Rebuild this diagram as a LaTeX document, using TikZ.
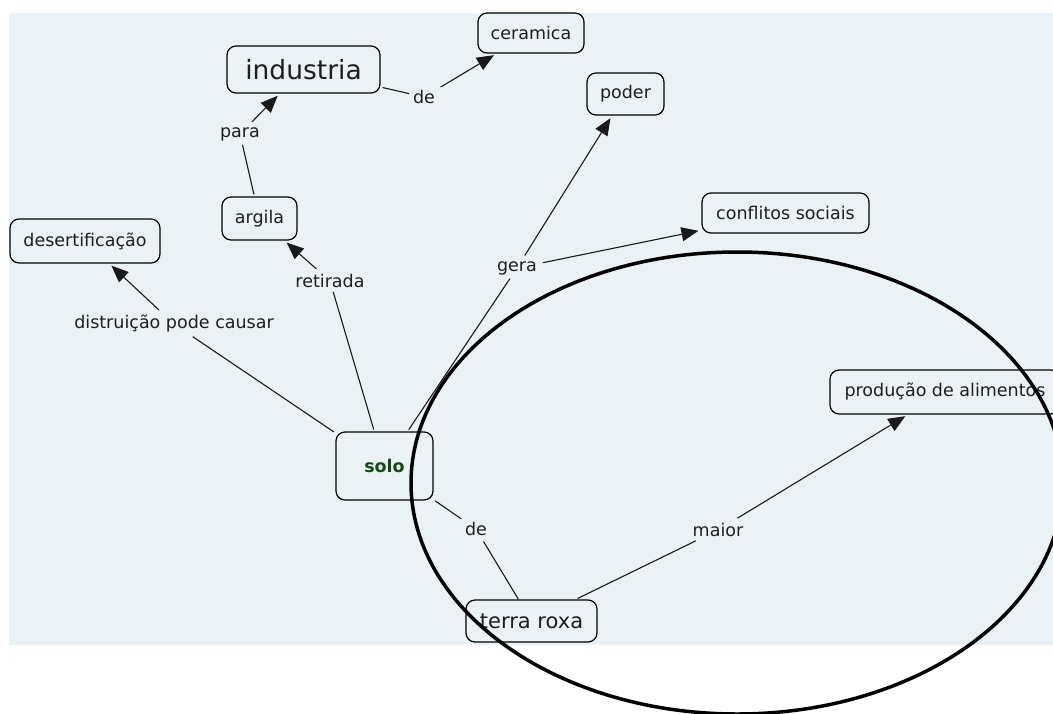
\documentclass[tikz,border=0pt]{standalone}
\usepackage{fontspec}
\setmainfont{DejaVu Sans}
\usetikzlibrary{arrows.meta}
\definecolor{bgc}{RGB}{235,242,245}
\definecolor{txt}{RGB}{30,30,30}
\definecolor{solog}{RGB}{22,72,22}
\newcommand\fnnorm{\fontsize{17.5pt}{21pt}\selectfont}
\newcommand\fnbig{\fontsize{26.5pt}{31pt}\selectfont}
\newcommand\fnmid{\fontsize{21pt}{25pt}\selectfont}
\begin{document}
\begin{tikzpicture}[x=1pt,y=-1pt,
  concept/.style={draw=black, line width=1.2pt, rounded corners=9pt, fill=bgc,
    text=txt, font=\fnnorm, inner sep=0pt, align=center},
  linkph/.style={text=txt, font=\fnnorm, inner sep=3pt, outer sep=1pt},
  conn/.style={line width=1.1pt, draw=black!90, shorten <=2pt},
  arr/.style={conn, shorten >=3pt, -{Triangle[length=17pt,width=14pt]}},
  ring/.style={line width=3.5pt, draw=black}]
\useasboundingbox (0,0) rectangle (1053,713);
\fill[bgc] (9,13) rectangle (1053,645);
% concepts
\node[concept, font=\fnbig, minimum width=153pt, minimum height=47pt] (ind) at (303.5,69.5) {industria};
\node[concept, minimum width=106pt, minimum height=40pt] (cer) at (531,33) {ceramica};
\node[concept, minimum width=77pt, minimum height=42pt] (pod) at (625.5,94) {poder};
\node[concept, minimum width=167pt, minimum height=40pt] (con) at (785.5,213) {conflitos sociais};
\node[concept, minimum width=75pt, minimum height=43pt] (arg) at (259.5,218.5) {argila};
\node[concept, minimum width=150pt, minimum height=44pt] (des) at (85,241) {desertificação};
\node[concept, font=\fnnorm\bfseries, text=solog, minimum width=97pt, minimum height=68pt] (solo) at (384.5,466) {solo};
\node[concept, font=\fnmid, minimum width=131pt, minimum height=42pt] (ter) at (531.5,621) {terra roxa};
\node[concept, minimum width=230pt, minimum height=44pt] (pro) at (945,392) {produção de alimentos};
% linking phrases
\node[linkph] (de1) at (424,97) {de};
\node[linkph] (para) at (240,134) {para};
\node[linkph] (ret) at (330,281) {retirada};
\node[linkph] (dis) at (174,324) {distruição pode causar};
\node[linkph] (gera) at (517,268) {gera};
\node[linkph] (de2) at (476,529) {de};
\node[linkph] (mai) at (718,530) {maior};
% connectors
\draw[conn] (ind) -- (de1);
\draw[arr] (de1) -- (cer);
\draw[conn] (arg) -- (para);
\draw[arr] (para) -- (ind);
\draw[conn] (solo) -- (ret);
\draw[arr] (ret) -- (arg);
\draw[conn] (solo) -- (dis);
\draw[arr] (dis) -- (des);
\draw[conn] (solo) -- (gera);
\draw[arr] (gera) -- (pod);
\draw[arr] (gera) -- (con);
\draw[conn] (solo) -- (de2);
\draw[conn] (de2) -- (ter);
\draw[conn] (ter) -- (mai);
\draw[arr] (mai) -- (pro);
% ellipse on top
\draw[ring] (737,483) ellipse [x radius=326pt, y radius=231pt];
\end{tikzpicture}
\end{document}
